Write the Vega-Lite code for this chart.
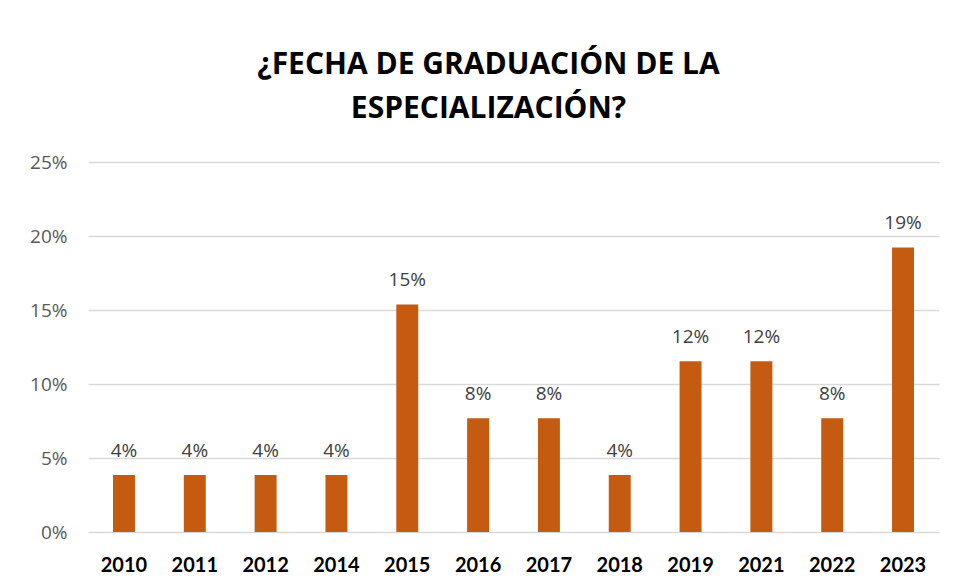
{
  "$schema": "https://vega.github.io/schema/vega-lite/v6.json",
  "autosize": {"type": "none"},
  "width": 851,
  "height": 370,
  "padding": {"left": 88, "top": 162, "right": 17, "bottom": 55},
  "background": "white",
  "title": {
    "text": ["¿FECHA DE GRADUACIÓN DE LA", "ESPECIALIZACIÓN?"],
    "font": "Open Sans",
    "fontSize": 30,
    "fontWeight": "bold",
    "color": "#000000",
    "anchor": "middle",
    "dx": -25,
    "lineHeight": 44,
    "offset": 29,
    "limit": 0
  },
  "data": {
    "values": [
      {"year": "2010", "pct": 0.0385},
      {"year": "2011", "pct": 0.0385},
      {"year": "2012", "pct": 0.0385},
      {"year": "2014", "pct": 0.0385},
      {"year": "2015", "pct": 0.1538},
      {"year": "2016", "pct": 0.0769},
      {"year": "2017", "pct": 0.0769},
      {"year": "2018", "pct": 0.0385},
      {"year": "2019", "pct": 0.1154},
      {"year": "2021", "pct": 0.1154},
      {"year": "2022", "pct": 0.0769},
      {"year": "2023", "pct": 0.1923}
    ]
  },
  "encoding": {
    "x": {
      "field": "year",
      "type": "nominal",
      "sort": null,
      "scale": {"paddingInner": 0.69, "paddingOuter": 0.353},
      "axis": {
        "title": null,
        "labelAngle": 0,
        "labelFont": "Lato",
        "labelFontSize": 20,
        "labelFontWeight": "bold",
        "labelColor": "#000000",
        "labelPadding": 23,
        "ticks": false,
        "domain": false,
        "grid": false
      }
    },
    "y": {
      "field": "pct",
      "type": "quantitative",
      "scale": {"domain": [0, 0.25], "nice": false},
      "axis": {
        "title": null,
        "values": [0, 0.05, 0.1, 0.15, 0.2, 0.25],
        "format": ".0%",
        "labelFont": "Open Sans",
        "labelFontSize": 19,
        "labelColor": "#595959",
        "labelPadding": 21,
        "ticks": false,
        "domain": false,
        "grid": true,
        "gridColor": "#d9d9d9",
        "gridWidth": 1.5
      }
    }
  },
  "layer": [
    {
      "mark": {"type": "bar", "color": "#C55A11"}
    },
    {
      "mark": {
        "type": "text",
        "baseline": "bottom",
        "dy": -14,
        "font": "Open Sans",
        "fontSize": 19,
        "color": "#404040"
      },
      "encoding": {
        "text": {"field": "pct", "type": "quantitative", "format": ".0%"}
      }
    }
  ],
  "config": {"view": {"stroke": null}}
}
